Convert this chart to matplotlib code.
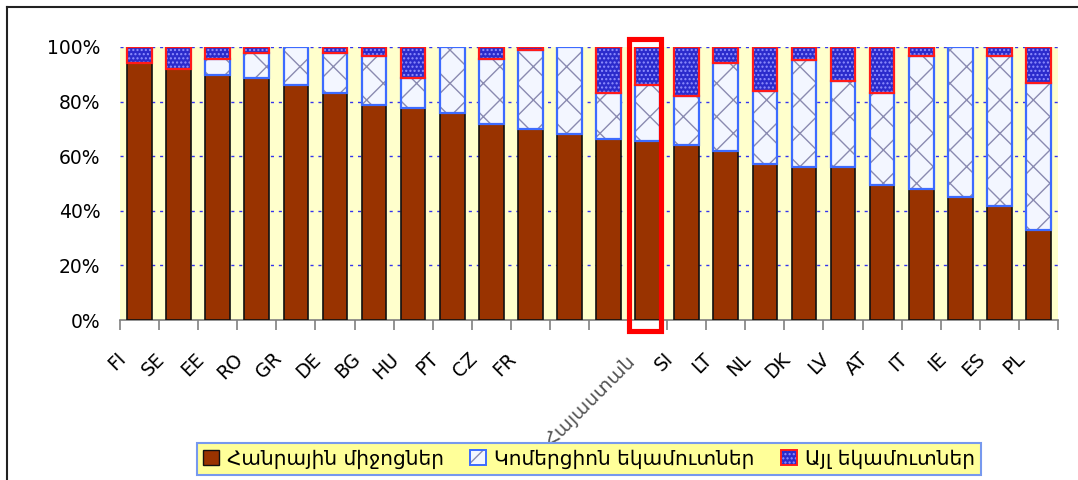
import numpy as np
import matplotlib
matplotlib.use("Agg")
import matplotlib.pyplot as plt
from matplotlib.patches import Patch, Rectangle
from matplotlib.lines import Line2D
from matplotlib.legend_handler import HandlerTuple
import matplotlib.transforms as mtransforms

plt.rcParams['font.family'] = ['DejaVu Sans']
plt.rcParams['hatch.linewidth'] = 1.0

countries = ['FI', 'SE', 'EE', 'RO', 'GR', 'DE', 'BG', 'HU', 'PT', 'CZ', 'FR', '', '',
             'Հայաստան', 'SI', 'LT', 'NL', 'DK', 'LV', 'AT', 'IT', 'IE', 'ES', 'PL']
public = [94.1, 92.0, 89.9, 88.8, 86.2, 83.0, 78.7, 77.6, 76.0, 71.8, 69.9, 68.1, 66.2,
          65.6, 64.0, 61.9, 57.0, 56.0, 56.0, 49.6, 48.0, 44.9, 41.8, 32.8]
commercial = [0.0, 0.0, 5.7, 9.0, 13.8, 14.8, 18.1, 11.2, 24.0, 23.9, 29.1, 31.9, 16.9,
              20.6, 17.9, 32.2, 26.9, 39.2, 31.7, 33.5, 48.8, 55.1, 55.0, 54.0]
other = [5.9, 8.0, 4.4, 2.2, 0.0, 2.2, 3.2, 11.2, 0.0, 4.3, 1.0, 0.0, 16.9,
         13.8, 18.1, 5.9, 16.1, 4.8, 12.3, 16.9, 3.2, 0.0, 3.2, 13.2]
legend_labels = ['Հանրային միջոցներ', 'Կոմերցիոն եկամուտներ', 'Այլ եկամուտներ']
yticks = [0, 20, 40, 60, 80, 100]
highlight = 'Հայաստան'

c_pub = '#993300'
c_com_face = '#F3F6FF'
c_com_hatch = '#8A8AB0'
c_com_edge = '#3D6BFF'
c_oth_face = '#2B2BCC'
c_oth_hatch = '#9090FF'
c_oth_edge = '#FF1A1A'

fig = plt.figure(figsize=(10.78, 4.8), dpi=100)
ax = fig.add_axes([120/1078, 1-320/480, (1058-120)/1078, (320-47)/480])
ax.set_facecolor('#FFFFCC')

x = np.arange(len(countries))
pub = np.array(public)
com = np.array(commercial)
oth = np.array(other)
w = 0.63

for yv in yticks[1:]:
    ax.axhline(yv, color='#3333EE', lw=1.0, ls=(0, (2.2, 3.5)), zorder=1)

ax.bar(x, pub, w, color=c_pub, edgecolor='#111111', lw=1.2, zorder=3)

m = com > 0
ax.bar(x[m], com[m], w, bottom=pub[m], color=c_com_face, edgecolor=c_com_hatch,
       lw=0, hatch='x', zorder=3)
ax.bar(x[m], com[m], w, bottom=pub[m], fill=False, edgecolor=c_com_edge, lw=1.6, zorder=4)

m = oth > 0
ax.bar(x[m], oth[m], w, bottom=(pub + com)[m], color=c_oth_face, edgecolor=c_oth_hatch,
       lw=0, hatch='....', zorder=3)
ax.bar(x[m], oth[m], w, bottom=(pub + com)[m], fill=False, edgecolor=c_oth_edge, lw=1.6, zorder=5)

ax.set_xlim(-0.5, len(countries) - 0.5)
ax.set_ylim(0, 100)
ax.set_yticks(yticks)
ax.set_yticklabels([f'{v}%' for v in yticks], fontsize=13.5)
ax.tick_params(axis='y', length=0, pad=14)
ax.set_xticks(np.arange(-0.5, len(countries), 1.0))
ax.set_xticklabels([])
ax.tick_params(axis='x', length=7, width=1.2, color='#808080', direction='out')
for s in ['top', 'right', 'left']:
    ax.spines[s].set_visible(False)
ax.spines['bottom'].set_color('#808080')
ax.spines['bottom'].set_linewidth(1.2)

off = mtransforms.ScaledTranslation(-0.17, -0.36, fig.dpi_scale_trans)
off_hi = mtransforms.ScaledTranslation(-0.15, -0.38, fig.dpi_scale_trans)
for i, lab in enumerate(countries):
    if not lab:
        continue
    if lab == highlight:
        ax.text(i, 0, lab, transform=ax.transData + off_hi, rotation=45, ha='right',
                va='center', rotation_mode='anchor', fontsize=14, color='#555555')
    else:
        ax.text(i, 0, lab, transform=ax.transData + off, rotation=45, ha='right',
                va='center', rotation_mode='anchor', fontsize=13.5, color='black')

hi = countries.index(highlight)
ax.add_patch(Rectangle((hi - 0.48, -3.85), 0.81, 106.75, fill=False, edgecolor='#FF0000',
                       lw=3.7, clip_on=False, zorder=10))

h1 = Patch(facecolor=c_pub, edgecolor='#111111', lw=1.0)
h2 = (Patch(facecolor=c_com_face, edgecolor=c_com_hatch, lw=0, hatch='/'),
      Patch(fill=False, edgecolor=c_com_edge, lw=1.4))
h3 = (Patch(facecolor=c_oth_face, edgecolor=c_oth_hatch, lw=0, hatch='....'),
      Patch(fill=False, edgecolor=c_oth_edge, lw=1.4))
leg = fig.legend([h1, h2, h3], legend_labels, loc='center', bbox_to_anchor=(589/1078, 1-459/480),
                 ncol=3, fontsize=14.5, frameon=True, fancybox=False, framealpha=1,
                 facecolor='#FFFF99', edgecolor='#7799EE', handlelength=0.8, handleheight=0.8,
                 handletextpad=0.4, columnspacing=1.3, borderpad=0.3, borderaxespad=0,
                 handler_map={tuple: HandlerTuple(ndivide=1, pad=0)})
leg.get_frame().set_linewidth(1.5)

fig.add_artist(Line2D([7/1078, 7/1078], [0, 1-7/480], color='#222222', lw=1.5))
fig.add_artist(Line2D([7/1078, 1], [1-7/480, 1-7/480], color='#222222', lw=1.5))

fig.savefig('out.png', dpi=100)
